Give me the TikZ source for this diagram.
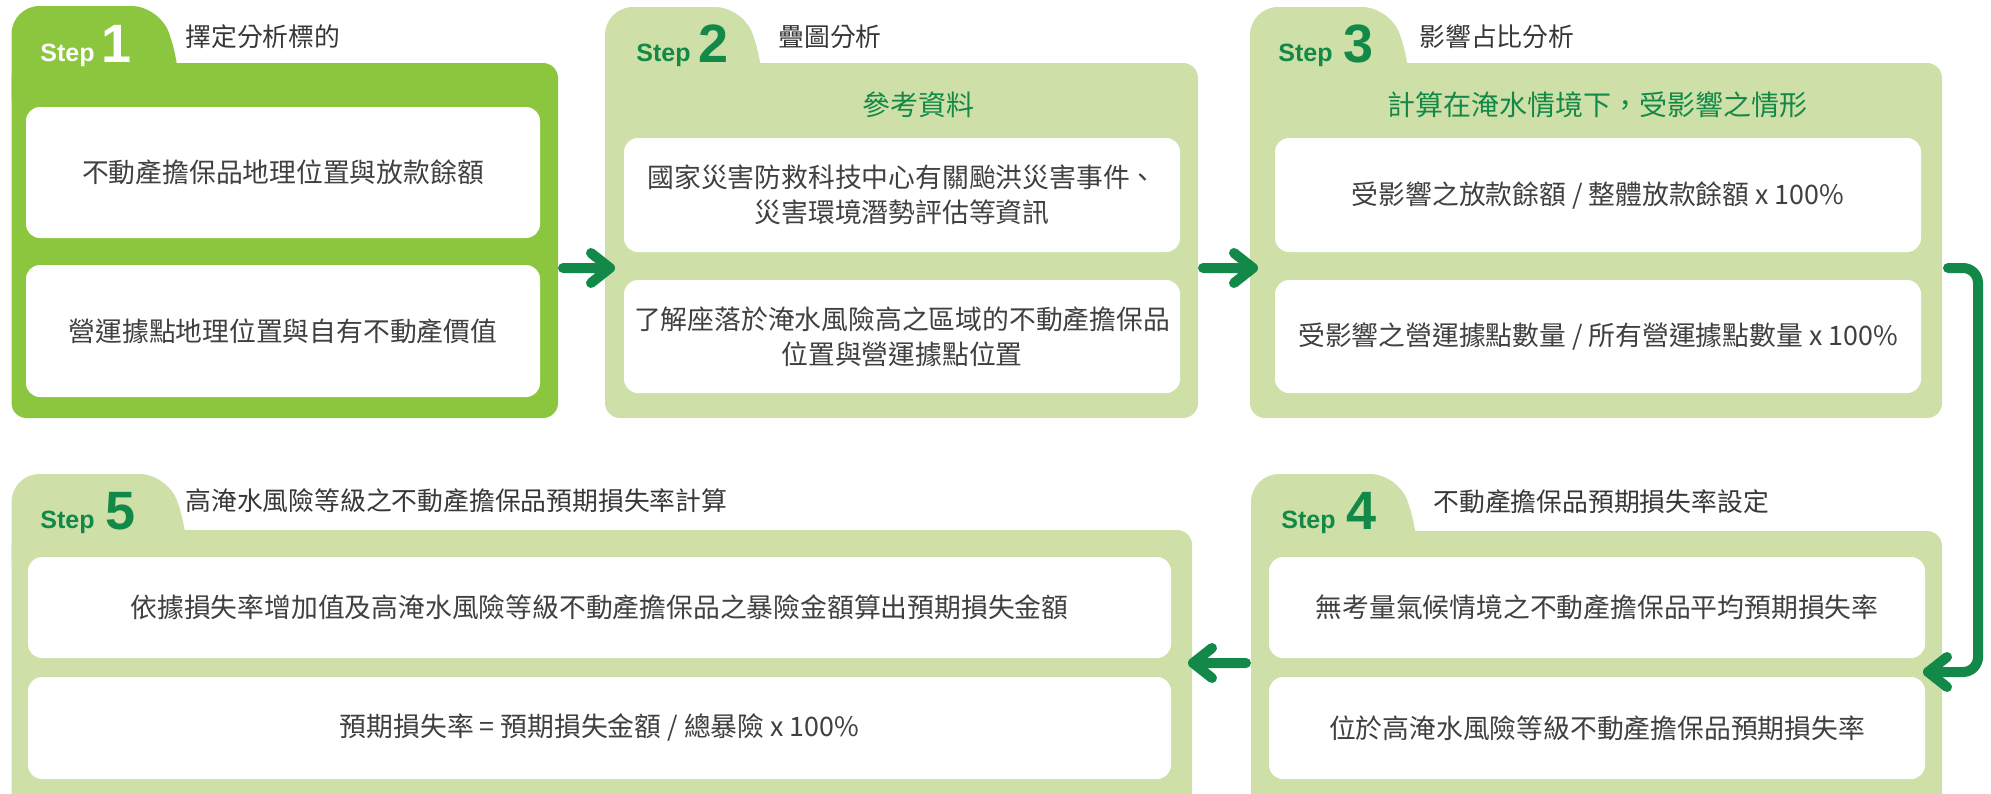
\documentclass[tikz,border=0pt]{standalone}
\usepackage{fontspec}
\setmainfont{Noto Sans CJK TC}
\newfontfamily\stepfont{Liberation Sans}
\usetikzlibrary{calc}
\definecolor{brightgreen}{RGB}{140,198,63}
\definecolor{lightgreen}{RGB}{206,224,167}
\definecolor{darkgreen}{RGB}{18,137,72}
\definecolor{txtgray}{RGB}{64,64,64}
\definecolor{titlegray}{RGB}{55,55,55}
\newcommand{\mypanel}[7]{%
  \fill[#7, rounded corners=7.5pt] (#1,#4) rectangle (#2,#5);
  \fill[#7, rounded corners=14pt] (#1,#4+60) -- (#1,#3) -- (#1+#6-20,#3) -- (#1+#6,#4) -- (#1+#6,#4+60) -- cycle;
}
\begin{document}
\begin{tikzpicture}[x=0.5pt, y=-0.5pt,
  wbox/.style={fill=white, rounded corners=7pt, inner sep=0pt, align=center, text=txtgray, font=\fontsize{13.4pt}{17.5pt}\selectfont},
  titlelbl/.style={anchor=west, inner sep=0pt, text=titlegray, font=\fontsize{12.9pt}{15pt}\selectfont},
  heading/.style={inner sep=0pt, text=darkgreen, font=\fontsize{14pt}{16pt}\selectfont},
  steplbl/.style={anchor=base west, inner sep=0pt, text=darkgreen, font=\stepfont\bfseries\fontsize{12.5pt}{14pt}\selectfont},
  stepnum/.style={anchor=base west, inner sep=0pt, text=darkgreen, font=\stepfont\bfseries\fontsize{27pt}{30pt}\selectfont},
  conn/.style={draw=darkgreen, line width=5pt, line cap=round, line join=round}]
\useasboundingbox (0,0) rectangle (1991,793);

% panels
\mypanel{11.5}{558}{6}{63}{418}{168}{brightgreen}
\mypanel{605}{1198}{7}{63}{418}{158}{lightgreen}
\mypanel{1250}{1942}{7}{63}{418}{160}{lightgreen}
\mypanel{1251}{1942}{474}{531}{840}{167}{lightgreen}
\mypanel{11.5}{1192}{474}{530}{840}{176}{lightgreen}

% step labels
\node[steplbl, text=white] (s1) at (40,61) {Step};
\node[stepnum, text=white] (n1) at (101,62) {1};
\node[steplbl] (s2) at (636,61) {Step};
\node[stepnum] (n2) at (698,62) {2};
\node[steplbl] (s3) at (1278,61) {Step};
\node[stepnum] (n3) at (1343,62) {3};
\node[steplbl] (s4) at (1281,528) {Step};
\node[stepnum] (n4) at (1346,529) {4};
\node[steplbl] (s5) at (40,528) {Step};
\node[stepnum] (n5) at (105,529) {5};

% titles
\node[titlelbl] (t1) at (185,37) {擇定分析標的};
\node[titlelbl] (t2) at (778,37) {疊圖分析};
\node[titlelbl] (t3) at (1419,37) {影響占比分析};
\node[titlelbl] (t4) at (1433,502) {不動產擔保品預期損失率設定};
\node[titlelbl] (t5) at (185,501) {高淹水風險等級之不動產擔保品預期損失率計算};

% headings
\node[heading] (h2) at (918,105) {參考資料};
\node[heading] (h3) at (1597,105) {計算在淹水情境下，受影響之情形};

% boxes
\node[wbox, minimum width=257pt, minimum height=65.5pt] (b11) at (283,172.5) {不動產擔保品地理位置與放款餘額};
\node[wbox, minimum width=257pt, minimum height=66pt] (b12) at (283,331) {營運據點地理位置與自有不動產價值};
\node[wbox, minimum width=278pt, minimum height=57pt] (b21) at (902,195) {國家災害防救科技中心有關颱洪災害事件、\\災害環境潛勢評估等資訊};
\node[wbox, minimum width=278pt, minimum height=56.5pt] (b22) at (902,336.5) {了解座落於淹水風險高之區域的不動產擔保品\\位置與營運據點位置};
\node[wbox, minimum width=323pt, minimum height=57pt] (b31) at (1598,195) {受影響之放款餘額 / 整體放款餘額 x 100\%};
\node[wbox, minimum width=323pt, minimum height=56.5pt] (b32) at (1598,336.5) {受影響之營運據點數量 / 所有營運據點數量 x 100\%};
\node[wbox, minimum width=328pt, minimum height=50.5pt] (b41) at (1597,607.5) {無考量氣候情境之不動產擔保品平均預期損失率};
\node[wbox, minimum width=328pt, minimum height=51pt] (b42) at (1597,728) {位於高淹水風險等級不動產擔保品預期損失率};
\node[wbox, minimum width=571.5pt, minimum height=50.5pt] (b51) at (599.5,607.5) {依據損失率增加值及高淹水風險等級不動產擔保品之暴險金額算出預期損失金額};
\node[wbox, minimum width=571.5pt, minimum height=51pt] (b52) at (599.5,728) {預期損失率 = 預期損失金額 / 總暴險 x 100\%};

% connectors
\coordinate (a1s) at (563,268);
\coordinate (a1t) at (610,268);
\coordinate (a2s) at (1203,268);
\coordinate (a2t) at (1253,268);
\coordinate (a3s) at (1948,268);
\coordinate (a3v) at (1978,470);
\coordinate (a3t) at (1928,672);
\coordinate (a4s) at (1246,663);
\coordinate (a4t) at (1193,663);

\draw[conn] (a1s) -- (a1t) ++(-19,-15) -- (a1t) -- ++(-19,15);
\draw[conn] (a2s) -- (a2t) ++(-19,-15) -- (a2t) -- ++(-19,15);
\draw[conn, rounded corners=7.5pt] (a3s) -| (a3v) |- (a3t);
\draw[conn] (a3t) ++(19,-15) -- (a3t) -- ++(19,15);
\draw[conn] (a4s) -- (a4t) ++(19,-15) -- (a4t) -- ++(19,15);
\end{tikzpicture}
\end{document}
